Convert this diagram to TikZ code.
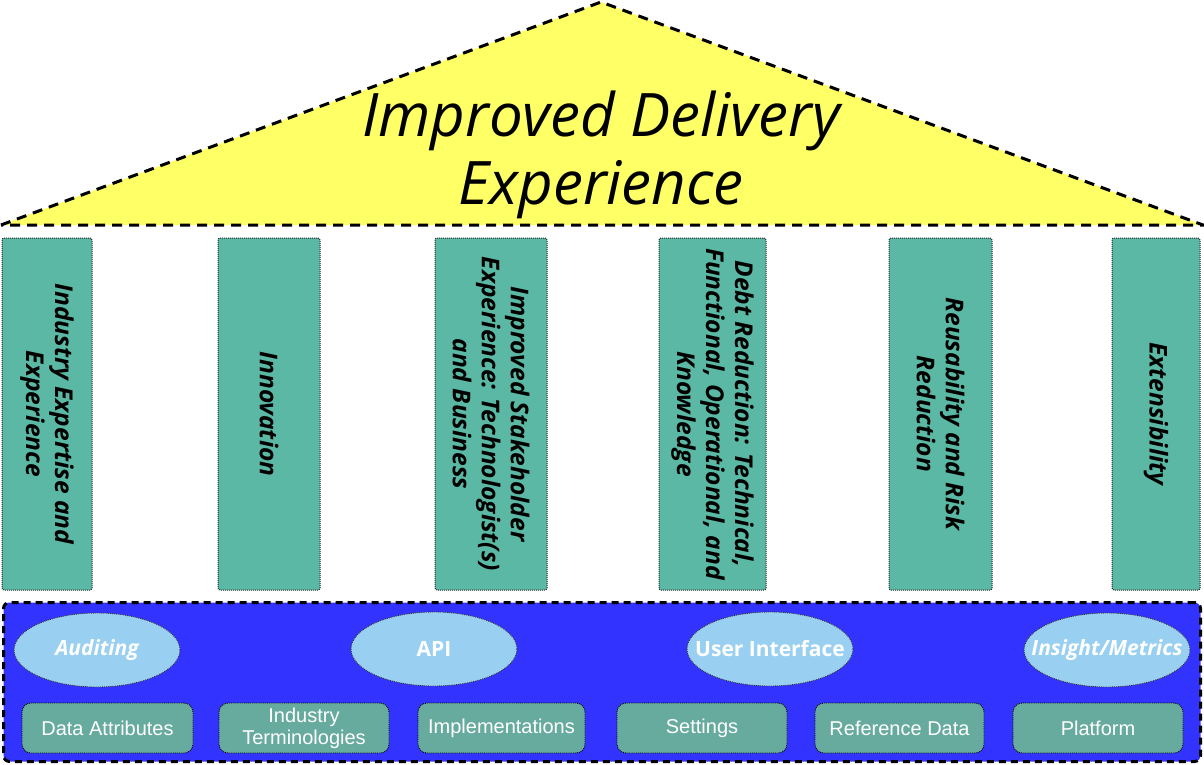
\documentclass[tikz,border=0pt]{standalone}
\usepackage{fontspec}
\setmainfont{Liberation Sans}
\newfontfamily\osans{Open Sans}
\usetikzlibrary{shapes.geometric}
\definecolor{roofyellow}{HTML}{FFFF66}
\definecolor{pillargreen}{HTML}{5BB8A5}
\definecolor{boxgreen}{HTML}{67AB9F}
\definecolor{ellblue}{HTML}{99D0F2}
\definecolor{baseblue}{HTML}{3333FF}
\tikzset{
  pillar/.style={draw=black!85, densely dotted, line width=1pt, fill=pillargreen, rounded corners=2pt,
    rotate=-90, inner sep=2pt, align=center, font=\osans\bfseries\itshape\fontsize{24.5}{29}\selectfont},
  ell/.style={ellipse, draw=black!80, densely dotted, line width=0.9pt, fill=ellblue,
    minimum width=166pt, minimum height=74pt, inner sep=0pt, text=white, font=\osans\bfseries\fontsize{21}{24}\selectfont},
  ellit/.style={ell, font=\osans\bfseries\itshape\fontsize{21}{24}\selectfont},
  item/.style={draw=black, densely dotted, line width=0.9pt, fill=boxgreen, rounded corners=9pt,
    minimum height=50pt, inner sep=0pt, align=center, text=white, font=\fontsize{20}{22}\selectfont},
}
\begin{document}
\begin{tikzpicture}[x=1pt,y=-1pt]
\useasboundingbox (0,0) rectangle (1204,764);
% roof
\coordinate (rl) at (1,225);
\coordinate (rt) at (601,2);
\coordinate (rr) at (1203,225);
\fill[roofyellow] (rl) -- (rt) -- (rr) -- cycle;
\draw[line width=3pt, dash pattern=on 10pt off 7pt] (rl) -- (rt) -- (rr) -- cycle;
\node[font=\osans\itshape\fontsize{60}{68}\selectfont, align=center] (title) at (601,155) {Improved Delivery\\Experience};
% pillars
\node[pillar, minimum width=352pt, minimum height=90pt] (p1) at (47,414) {Industry Expertise and\\Experience};
\node[pillar, minimum width=352pt, minimum height=102pt] (p2) at (269,414) {Innovation};
\node[pillar, minimum width=352pt, minimum height=112pt] (p3) at (491,414) {Improved Stakeholder\\Experience: Technologist(s)\\and Business};
\node[pillar, minimum width=352pt, minimum height=107pt] (p4) at (712.5,414) {Debt Reduction: Technical,\\Functional, Operational, and\\Knowledge};
\node[pillar, minimum width=352pt, minimum height=103pt] (p5) at (940.5,414) {Reusability and Risk\\Reduction};
\node[pillar, minimum width=352pt, minimum height=88pt] (p6) at (1156,414) {Extensibility};
% base
\node[draw=black, line width=3pt, dash pattern=on 7pt off 5pt, fill=baseblue, rounded corners=6pt,
  minimum width=1197pt, minimum height=159pt, inner sep=0pt] (base) at (602,682) {};
\node[ellit] (e1) at (97,650) {\makebox[0pt]{Auditing}};
\node[ell] (e2) at (434,649) {\makebox[0pt]{API}};
\node[ell] (e3) at (770,649) {\makebox[0pt]{User Interface}};
\node[ellit] (e4) at (1107,650) {\makebox[0pt]{Insight/Metrics}};
\node[item, minimum width=171pt] (b1) at (107.5,728) {Data Attributes};
\node[item, minimum width=170pt] (b2) at (304,728) {Industry\\Terminologies};
\node[item, minimum width=167pt] (b3) at (501.5,728) {Implementations};
\node[item, minimum width=170pt] (b4) at (702,728) {Settings};
\node[item, minimum width=169pt] (b5) at (899.5,728) {Reference Data};
\node[item, minimum width=170pt] (b6) at (1098,728) {Platform};
\end{tikzpicture}
\end{document}
